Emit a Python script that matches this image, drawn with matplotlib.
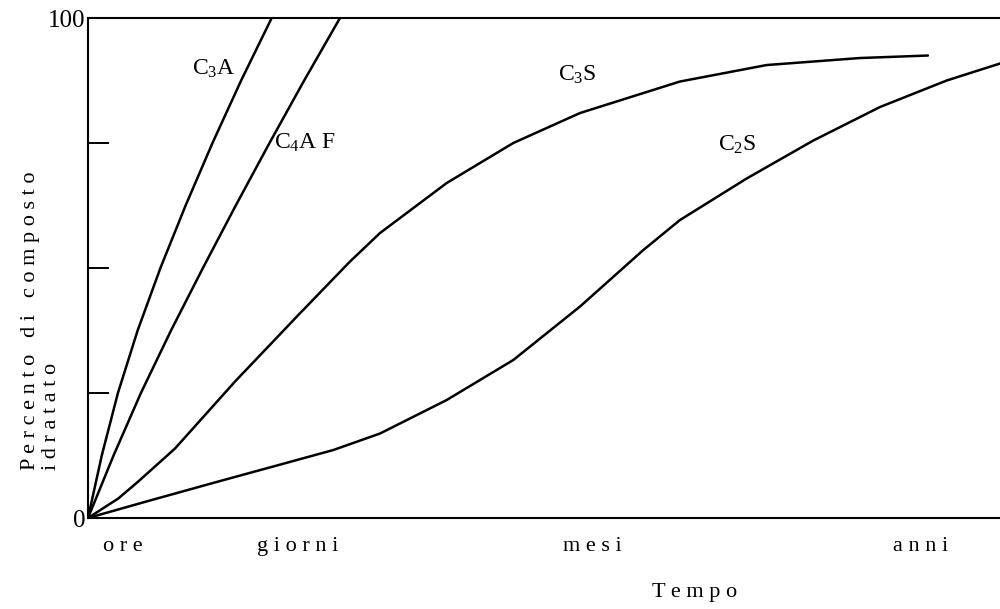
import numpy as np
import matplotlib
matplotlib.use("Agg")
import matplotlib.pyplot as plt

plt.rcParams['font.family'] = ['Liberation Serif', 'DejaVu Serif']
plt.rcParams['mathtext.fontset'] = 'custom'
plt.rcParams['mathtext.rm'] = 'Liberation Serif'
plt.rcParams['mathtext.it'] = 'Liberation Serif:italic'

# time axis is qualitative (ore -> anni), 0..100 across the plot
c3a_x = [0, 1.51, 3.28, 5.44, 7.94, 10.70, 13.65, 16.79, 20.14]
c3a_y = [0, 12.5, 25.0, 37.5, 50.0, 62.5, 75.0, 87.5, 100]

c4af_x = [0, 2.8, 5.8, 9.1, 12.6, 16.2, 19.9, 23.7, 27.63]
c4af_y = [0, 12.5, 25.0, 37.5, 50.0, 62.5, 75.0, 87.5, 100]

c3s_x = [0, 3.32, 5.51, 9.54, 16.12, 23.06, 28.73, 32.02, 39.33, 46.63, 53.95,
         64.91, 74.42, 84.65, 92.1]
c3s_y = [0, 3.9, 7.3, 13.9, 27.3, 40.6, 51.3, 57.0, 67.0, 75.0, 81.0,
         87.3, 90.6, 92.0, 92.5]

c2s_x = [0, 6.98, 14.29, 20.5, 26.9, 32.02, 39.33, 46.63, 53.95, 60.89,
         64.91, 72.22, 79.53, 86.84, 94.15, 100]
c2s_y = [0, 3.6, 7.3, 10.4, 13.6, 16.9, 23.6, 31.6, 42.3, 53.6,
         59.6, 67.9, 75.5, 82.2, 87.5, 90.9]

time_pos = [3.84, 23.0, 55.3, 91.3]
time_labels = ['o r e', 'g i o r n i', 'm e s i', 'a n n i']

fig = plt.figure(figsize=(10, 6.09), dpi=100)
ax = fig.add_axes([0.088, 0.1494, 0.912, 0.821])

for xs, ys in [(c3a_x, c3a_y), (c4af_x, c4af_y), (c3s_x, c3s_y), (c2s_x, c2s_y)]:
    ax.plot(xs, ys, color='black', lw=1.8, solid_capstyle='round', solid_joinstyle='round')

ax.set_xlim(0, 100)
ax.set_ylim(0, 100)
ax.spines['right'].set_visible(False)
for s in ['left', 'top', 'bottom']:
    ax.spines[s].set_linewidth(1.5)

ax.set_yticks([0, 25, 50, 75, 100])
ax.set_yticklabels(['0', '', '', '', '100'], fontsize=18)
ax.tick_params(axis='y', direction='in', length=15, width=1.4, pad=2)

ax.set_xticks(time_pos)
ax.set_xticklabels(time_labels, fontsize=16)
ax.tick_params(axis='x', length=0, pad=14)

# curve labels
ax.text(13.8, 89.8, r'C$_3$A', fontsize=17, ha='center', va='center')
ax.text(23.8, 75.0, r'C$_4$A F', fontsize=17, ha='center', va='center')
ax.text(53.7, 88.6, r'C$_3$S', fontsize=17, ha='center', va='center')
ax.text(71.2, 74.6, r'C$_2$S', fontsize=17, ha='center', va='center')

fig.text(0.695, 0.027, 'T e m p o', fontsize=16, ha='center', va='center')
fig.text(0.031, 0.228, 'P e r c e n t o   d i   c o m p o s t o', fontsize=16,
         rotation=90, ha='center', va='bottom')
fig.text(0.052, 0.228, 'i d r a t a t o', fontsize=16,
         rotation=90, ha='center', va='bottom')

fig.savefig('out.png', dpi=100, facecolor='white')
